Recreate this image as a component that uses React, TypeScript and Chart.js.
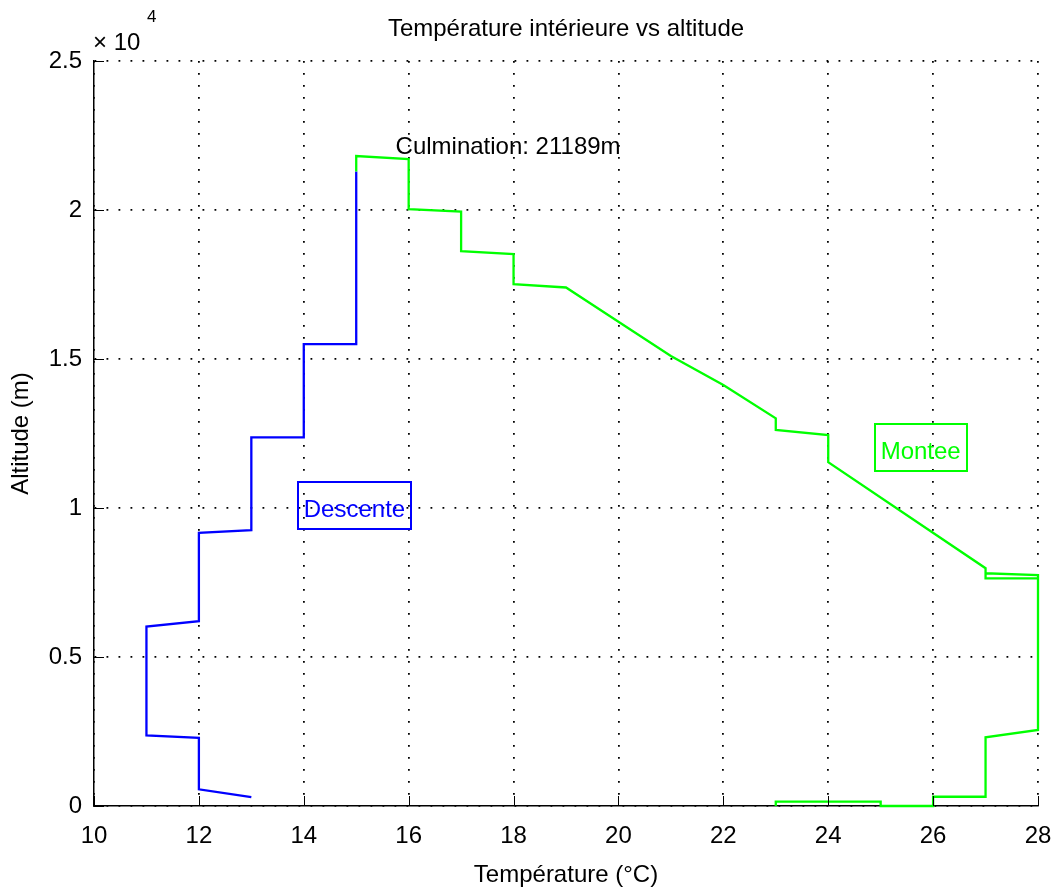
import React, { useEffect, useRef } from 'react';
import { Chart, registerables } from 'chart.js';

Chart.register(...registerables);

const FONT = "'Liberation Sans', Arial, Helvetica, sans-serif";

// ---- data ----
const chartTitle = 'Température intérieure vs altitude';
const xAxisLabel = 'Température (°C)';
const yAxisLabel = 'Altitude (m)';
const culminationText = 'Culmination: 21189m';
const descentLabel = 'Descente';
const ascentLabel = 'Montee';

const xMin = 10;
const xMax = 28;
const xStep = 2;
const yMin = 0;
const yMax = 25000;
const yStep = 5000;
const yTickScale = 10000; // "x 10^4"

// Descent (blue)
const descentTemp = [15, 15, 14, 14, 13, 13, 12, 12, 11, 11, 12, 12, 13];
const descentAlt = [21290, 15500, 15500, 12370, 12370, 9260, 9170, 6200, 6020, 2370, 2290, 560, 300];

// Ascent (green)
const ascentTemp = [23, 23, 25, 25, 26, 26, 27, 27, 28, 28, 27, 27, 28, 28, 27, 27, 24, 24, 23, 23, 22, 21, 20, 19, 18, 18, 17, 17, 16, 16, 15, 15];
const ascentAlt = [0, 145, 145, 0, 0, 310, 310, 2305, 2550, 7640, 7640, 7810, 7750, 7640, 7640, 7980, 11540, 12450, 12620, 13010, 14130, 15100, 16250, 17400, 17510, 18520, 18620, 19950, 20030, 21710, 21810, 21290];

// annotation anchors (data coords: temperature, altitude)
const culminationPos = [15.75, 22100];
const descentLabelPos = [14, 9930];
const ascentLabelPos = [25, 11880];

const BLUE = '#0000ff';
const GREEN = '#00ff00';

const toPoints = (xs: number[], ys: number[]) => xs.map((x, i) => ({ x, y: ys[i] }));

const matlabPlugin = {
  id: 'matlabDecor',
  afterDatasetsDraw(chart: any) {
    const { ctx, chartArea, scales } = chart;
    const xs = scales.x;
    const ys = scales.y;
    ctx.save();
    // inward ticks
    ctx.strokeStyle = '#000';
    ctx.lineWidth = 1;
    ctx.beginPath();
    xs.ticks.forEach((t: any) => {
      const px = Math.round(xs.getPixelForValue(t.value)) + 0.5;
      ctx.moveTo(px, chartArea.bottom);
      ctx.lineTo(px, chartArea.bottom - 10);
    });
    ys.ticks.forEach((t: any) => {
      const py = Math.round(ys.getPixelForValue(t.value)) + 0.5;
      ctx.moveTo(chartArea.left, py);
      ctx.lineTo(chartArea.left + 10, py);
    });
    ctx.stroke();

    // exponent label
    ctx.fillStyle = '#000';
    ctx.textAlign = 'left';
    ctx.textBaseline = 'alphabetic';
    ctx.font = `24px ${FONT}`;
    ctx.fillText('× 10', chartArea.left - 1, chartArea.top - 11);
    ctx.font = `17px ${FONT}`;
    ctx.fillText('4', chartArea.left + 53, chartArea.top - 39);

    // culmination text
    ctx.font = `24px ${FONT}`;
    ctx.textBaseline = 'middle';
    ctx.fillStyle = '#000';
    ctx.fillText(culminationText, xs.getPixelForValue(culminationPos[0]), ys.getPixelForValue(culminationPos[1]));

    // boxed labels
    const boxed = (text: string, pos: number[], color: string) => {
      const tx = xs.getPixelForValue(pos[0]);
      const ty = ys.getPixelForValue(pos[1]);
      const w = ctx.measureText(text).width;
      ctx.fillStyle = color;
      ctx.fillText(text, tx, ty);
      ctx.strokeStyle = color;
      ctx.lineWidth = 2;
      ctx.strokeRect(Math.round(tx - 6), Math.round(ty - 28), Math.round(w + 12), 47);
    };
    boxed(descentLabel, descentLabelPos, BLUE);
    boxed(ascentLabel, ascentLabelPos, GREEN);
    ctx.restore();
  },
};

export default function App() {
  const ref = useRef<HTMLCanvasElement | null>(null);

  useEffect(() => {
    if (!ref.current) return;
    const font = { family: FONT, size: 24, weight: 'normal' as const };
    const chart = new Chart(ref.current, {
      type: 'scatter',
      data: {
        datasets: [
          {
            label: ascentLabel,
            data: toPoints(ascentTemp, ascentAlt),
            showLine: true,
            borderColor: GREEN,
            backgroundColor: GREEN,
            borderWidth: 2.3,
            pointRadius: 0,
            tension: 0,
            fill: false,
            clip: false,
          },
          {
            label: descentLabel,
            data: toPoints(descentTemp, descentAlt),
            showLine: true,
            borderColor: BLUE,
            backgroundColor: BLUE,
            borderWidth: 2.3,
            pointRadius: 0,
            tension: 0,
            fill: false,
            clip: false,
          },
        ],
      },
      options: {
        responsive: false,
        animation: false,
        devicePixelRatio: 1,
        layout: { padding: { top: 0, left: 0, right: 18, bottom: 0 } },
        plugins: {
          legend: { display: false },
          tooltip: { enabled: false },
          title: {
            display: true,
            text: chartTitle,
            fullSize: false,
            color: '#000',
            font,
            padding: { top: 14.6, bottom: 17.6 },
          },
        },
        scales: {
          x: {
            type: 'linear',
            position: 'bottom',
            min: xMin,
            max: xMax,
            ticks: { stepSize: xStep, color: '#000', font, padding: 16, maxRotation: 0, autoSkip: false },
            grid: { color: '#000', lineWidth: 1.8, drawTicks: false },
            border: { display: true, color: '#000', width: 1.5, dash: [1.8, 10.2] },
            title: { display: true, text: xAxisLabel, color: '#000', font, padding: { top: 0, bottom: 0 } },
            afterFit: (s: any) => { s.height = 84; s.paddingLeft = 0; s.paddingRight = 0; },
          },
          y: {
            type: 'linear',
            min: yMin,
            max: yMax,
            ticks: {
              stepSize: yStep,
              color: '#000',
              font,
              padding: 12,
              callback: (v: any) => String(Number(v) / yTickScale),
            },
            grid: { color: '#000', lineWidth: 1.8, drawTicks: false },
            border: { display: true, color: '#000', width: 1.5, dash: [1.8, 10.2] },
            title: { display: true, text: yAxisLabel, color: '#000', font, padding: { top: 7, bottom: 0 } },
            afterFit: (s: any) => { s.width = 94; s.paddingTop = 0; s.paddingBottom = 0; },
          },
        },
      },
      plugins: [matlabPlugin],
    });
    return () => chart.destroy();
  }, []);

  return (
    <div style={{ position: 'absolute', left: 0, top: 0, width: 1056, height: 890, background: '#fff' }}>
      <canvas ref={ref} width={1056} height={890} style={{ display: 'block' }} />
    </div>
  );
}
